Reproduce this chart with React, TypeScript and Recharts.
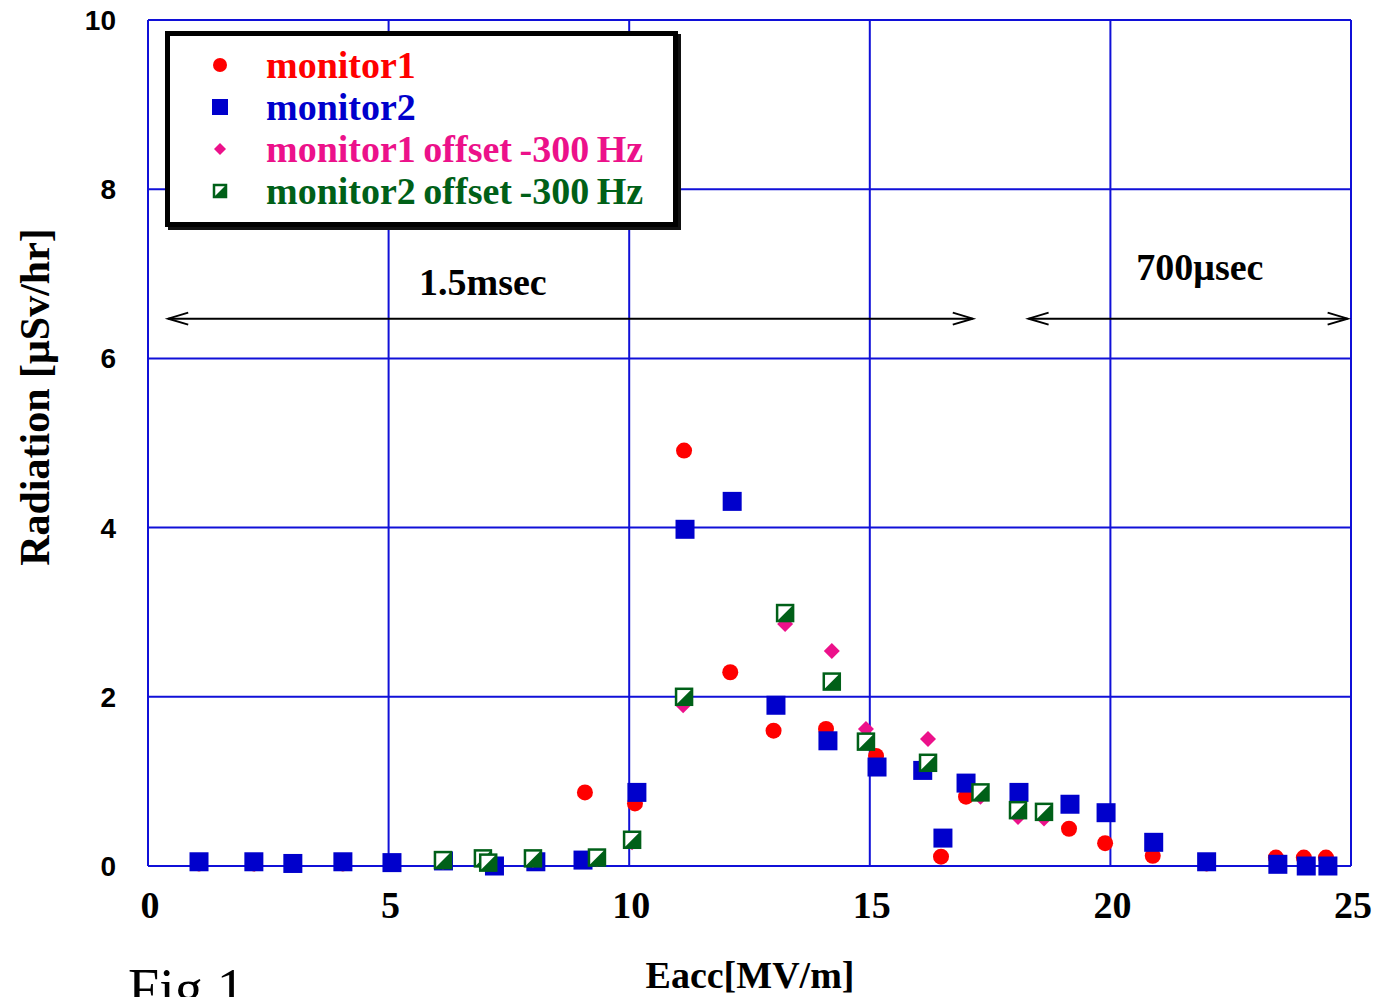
import React from "react";
import {
  ScatterChart, Scatter, XAxis, YAxis, CartesianGrid, Legend, Label, ReferenceLine, ReferenceDot,
} from "recharts";

// values
const m1X = [1.06, 2.2, 3.0, 4.05, 5.07, 9.08, 10.12, 11.14, 12.1, 13.0, 14.09, 15.13, 16.48, 17.0, 19.14, 19.89, 20.88, 22.0, 23.44, 24.02, 24.48];
const m1Y = [0.03, 0.03, 0.02, 0.03, 0.03, 0.87, 0.74, 4.91, 2.29, 1.6, 1.62, 1.3, 0.11, 0.82, 0.44, 0.27, 0.12, 0.03, 0.1, 0.1, 0.1];

const m2X = [1.06, 2.2, 3.01, 4.05, 5.07, 6.14, 7.2, 8.06, 9.04, 10.16, 11.16, 12.14, 13.05, 14.13, 15.15, 16.1, 16.52, 17.0, 18.1, 19.16, 19.91, 20.9, 22.0, 23.48, 24.07, 24.52];
const m2Y = [0.05, 0.05, 0.03, 0.05, 0.04, 0.06, 0.0, 0.05, 0.07, 0.87, 3.98, 4.31, 1.9, 1.48, 1.17, 1.13, 0.33, 0.98, 0.87, 0.73, 0.63, 0.28, 0.05, 0.02, 0.0, 0.0];

const m1oX = [6.13, 6.96, 8.0, 9.33, 10.06, 11.12, 13.24, 14.21, 14.92, 16.21, 17.3, 18.08, 18.62];
const m1oY = [0.05, 0.07, 0.07, 0.08, 0.28, 1.9, 2.86, 2.54, 1.62, 1.5, 0.82, 0.58, 0.56];

const m2oX = [6.13, 6.96, 7.07, 8.0, 9.33, 10.06, 11.14, 13.24, 14.21, 14.92, 16.21, 17.3, 18.08, 18.62];
const m2oY = [0.07, 0.09, 0.04, 0.09, 0.1, 0.31, 2.0, 2.99, 2.18, 1.47, 1.22, 0.87, 0.66, 0.64];

const xTicks = [0, 5, 10, 15, 20, 25];
const yTicks = [0, 2, 4, 6, 8, 10];

const zip = (xs: number[], ys: number[]) => xs.map((x, i) => ({ x, y: ys[i] }));

const RED = "#ff0000";
const BLUE = "#0000cc";
const PINK = "#ec118a";
const GREEN = "#006018";
const GRID = "#1010d8";
const SERIF = "'Liberation Serif', 'Times New Roman', serif";

const RedDot = (p: any) => <circle cx={p.cx} cy={p.cy} r={8} fill={RED} />;
const BlueSquare = (p: any) => <rect x={p.cx - 9.5} y={p.cy - 9.5} width={19} height={19} fill={BLUE} />;
const PinkDiamond = (p: any) => {
  const h = 8;
  return <polygon points={`${p.cx},${p.cy - h} ${p.cx + h},${p.cy} ${p.cx},${p.cy + h} ${p.cx - h},${p.cy}`} fill={PINK} />;
};
const GreenHalf = (p: any) => {
  const h = 8, { cx, cy } = p;
  return (
    <g>
      <rect x={cx - h} y={cy - h} width={2 * h} height={2 * h} fill="#fff" stroke={GREEN} strokeWidth={2.5} />
      <polygon points={`${cx + h},${cy - h} ${cx + h},${cy + h} ${cx - h},${cy + h}`} fill={GREEN} />
    </g>
  );
};

const XTick = ({ x, payload }: any) => (
  <text x={x + 2} y={918} textAnchor="middle" fontFamily={SERIF} fontWeight="bold" fontSize={38} fill="#000">
    {payload.value}
  </text>
);
const YTick = ({ y, payload }: any) => (
  <text x={116} y={y + 10} textAnchor="end" fontFamily="'Liberation Sans', Arial, sans-serif" fontWeight="bold" fontSize={28} fill="#000">
    {payload.value}
  </text>
);

const Arrow = (p: any) => {
  const { x1, y1, x2, y2 } = p;
  const a = 20, w = 6;
  return (
    <g stroke="#000" strokeWidth={2} fill="none">
      <line x1={x1} y1={y1} x2={x2} y2={y2} />
      <polyline points={`${x1 + a},${y1 - w} ${x1},${y1} ${x1 + a},${y1 + w}`} />
      <polyline points={`${x2 - a},${y2 - w} ${x2},${y2} ${x2 - a},${y2 + w}`} />
    </g>
  );
};

const note = (txt: string) => (p: any) => (
  <text x={p.cx} y={p.cy + 12} textAnchor="middle" fontFamily={SERIF} fontWeight="bold" fontSize={38} fill="#000">
    {txt}
  </text>
);

const legendItems = [
  { label: "monitor1", color: RED, icon: <circle cx={10} cy={10} r={7} fill={RED} /> },
  { label: "monitor2", color: BLUE, icon: <rect x={2} y={2} width={16} height={16} fill={BLUE} /> },
  { label: "monitor1 offset -300 Hz", color: PINK, icon: <polygon points="10,4 16,10 10,16 4,10" fill={PINK} /> },
  {
    label: "monitor2 offset -300 Hz", color: GREEN, icon: (
      <g>
        <rect x={4} y={4} width={12} height={12} fill="#fff" stroke={GREEN} strokeWidth={2.5} />
        <polygon points="16,4 16,16 4,16" fill={GREEN} />
      </g>
    ),
  },
];

const LegendBox = () => (
  <div style={{
    boxSizing: "border-box", width: 513, height: 196, border: "5px solid #000", background: "#fff",
    boxShadow: "3px 3px 0 #111", paddingTop: 8, fontFamily: SERIF, fontWeight: "bold", fontSize: 38,
  }}>
    {legendItems.map((it) => (
      <div key={it.label} style={{ display: "flex", alignItems: "center", height: 42, color: it.color, whiteSpace: "nowrap" }}>
        <svg width={20} height={20} style={{ marginLeft: 40, marginRight: 36 }}>{it.icon}</svg>
        <span style={{ wordSpacing: -2 }}>{it.label}</span>
      </div>
    ))}
  </div>
);

export default function App() {
  return (
    <div style={{ position: "absolute", left: 0, top: 0, background: "#fff" }}>
      <ScatterChart width={1373} height={997} margin={{ top: 20, right: 22, left: 0, bottom: 0 }}>
        <CartesianGrid stroke={GRID} strokeWidth={2} horizontal vertical />
        <XAxis type="number" dataKey="x" domain={[0, 25]} ticks={xTicks} height={131}
          axisLine={{ stroke: GRID, strokeWidth: 2 }} tickLine={false} tick={<XTick />} interval={0}>
          <Label content={() => (
            <text x={750} y={988} textAnchor="middle" fontFamily={SERIF} fontWeight="bold" fontSize={38} fill="#000">Eacc[MV/m]</text>
          )} />
          <Label content={() => (
            <text x={128} y={1008} fontFamily={SERIF} fontSize={56} fill="#000">Fig.1</text>
          )} />
        </XAxis>
        <YAxis type="number" dataKey="y" domain={[0, 10]} ticks={yTicks} width={148}
          axisLine={{ stroke: GRID, strokeWidth: 2 }} tickLine={false} tick={<YTick />} interval={0}>
          <Label content={() => (
            <text transform="translate(35,397) rotate(-90)" textAnchor="middle" dominantBaseline="central"
              fontFamily={SERIF} fontWeight="bold" fontSize={42} fill="#000">Radiation [μSv/hr]</text>
          )} />
        </YAxis>
        <Legend content={<LegendBox />} layout="vertical" align="center" verticalAlign="middle"
          wrapperStyle={{ position: "absolute", left: 165, top: 31, width: 520 }} />
        <ReferenceLine segment={[{ x: 0.42, y: 6.47 }, { x: 17.14, y: 6.47 }]} shape={Arrow} ifOverflow="visible" />
        <ReferenceLine segment={[{ x: 18.3, y: 6.47 }, { x: 24.93, y: 6.47 }]} shape={Arrow} ifOverflow="visible" />
        <ReferenceDot x={6.96} y={6.89} r={1} shape={note("1.5msec")} ifOverflow="visible" />
        <ReferenceDot x={21.86} y={7.07} r={1} shape={note("700μsec")} ifOverflow="visible" />
        <Scatter name="monitor1" data={zip(m1X, m1Y)} shape={RedDot} isAnimationActive={false} />
        <Scatter name="monitor2" data={zip(m2X, m2Y)} shape={BlueSquare} isAnimationActive={false} />
        <Scatter name="monitor1 offset -300Hz" data={zip(m1oX, m1oY)} shape={PinkDiamond} isAnimationActive={false} />
        <Scatter name="monitor2 offset -300Hz" data={zip(m2oX, m2oY)} shape={GreenHalf} isAnimationActive={false} />
      </ScatterChart>
    </div>
  );
}
